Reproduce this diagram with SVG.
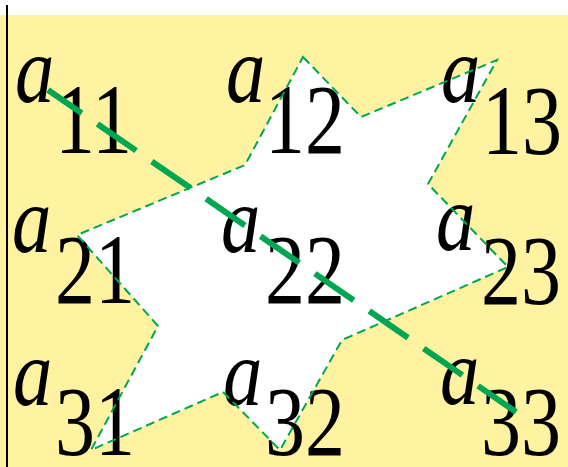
<svg xmlns="http://www.w3.org/2000/svg" width="568" height="467" viewBox="0 0 568 467">
<style>
.thin{fill:none;stroke:#00A651;stroke-width:2;stroke-dasharray:9 5}
.thick{fill:none;stroke:#00A651;stroke-width:6;stroke-dasharray:47 19;stroke-dashoffset:6}
</style>
<rect x="0" y="0" width="568" height="467" fill="#ffffff"/>
<rect id="bg" x="0" y="15" width="568" height="452" fill="#FFF2A1"/>
<line x1="7" y1="5" x2="7" y2="467" stroke="#000" stroke-width="2"/>
<polygon id="star" points="303,57 361,117 497,60 428,184 508,267 342,340 280,450 223,392 91,450 158,326 77,235 245,165" fill="#ffffff"/>
<g id="a11"><text font-family="Liberation Serif, serif" font-style="italic" font-size="96" transform="translate(15,102) scale(0.82,1)">a</text><text font-family="Liberation Serif, serif" font-size="100" transform="translate(55,153) scale(0.8,1)">11</text></g>
<g id="a12"><text font-family="Liberation Serif, serif" font-style="italic" font-size="96" transform="translate(226,102) scale(0.82,1)">a</text><text font-family="Liberation Serif, serif" font-size="100" transform="translate(265,153) scale(0.8,1)">12</text></g>
<g id="a13"><text font-family="Liberation Serif, serif" font-style="italic" font-size="96" transform="translate(441,102) scale(0.82,1)">a</text><text font-family="Liberation Serif, serif" font-size="100" transform="translate(482,154) scale(0.8,1)">13</text></g>
<g id="a21"><text font-family="Liberation Serif, serif" font-style="italic" font-size="96" transform="translate(12,252) scale(0.82,1)">a</text><text font-family="Liberation Serif, serif" font-size="100" transform="translate(55,303) scale(0.8,1)">21</text></g>
<g id="a22"><text font-family="Liberation Serif, serif" font-style="italic" font-size="96" transform="translate(221,252) scale(0.82,1)">a</text><text font-family="Liberation Serif, serif" font-size="100" transform="translate(265,303) scale(0.8,1)">22</text></g>
<g id="a23"><text font-family="Liberation Serif, serif" font-style="italic" font-size="96" transform="translate(436,250) scale(0.82,1)">a</text><text font-family="Liberation Serif, serif" font-size="100" transform="translate(481,304) scale(0.8,1)">23</text></g>
<g id="a31"><text font-family="Liberation Serif, serif" font-style="italic" font-size="96" transform="translate(13,405) scale(0.82,1)">a</text><text font-family="Liberation Serif, serif" font-size="100" transform="translate(55,455) scale(0.8,1)">31</text></g>
<g id="a32"><text font-family="Liberation Serif, serif" font-style="italic" font-size="96" transform="translate(223,405) scale(0.82,1)">a</text><text font-family="Liberation Serif, serif" font-size="100" transform="translate(265,455) scale(0.8,1)">32</text></g>
<g id="a33"><text font-family="Liberation Serif, serif" font-style="italic" font-size="96" transform="translate(440,404) scale(0.82,1)">a</text><text font-family="Liberation Serif, serif" font-size="100" transform="translate(481,455) scale(0.8,1)">33</text></g>
<g id="connectors">
<polygon class="thin" points="303,57 361,117 497,60 428,184 508,267 342,340 280,450 223,392 91,450 158,326 77,235 245,165"/>
<line class="thick" x1="48" y1="90" x2="516" y2="412"/>
</g>
</svg>
